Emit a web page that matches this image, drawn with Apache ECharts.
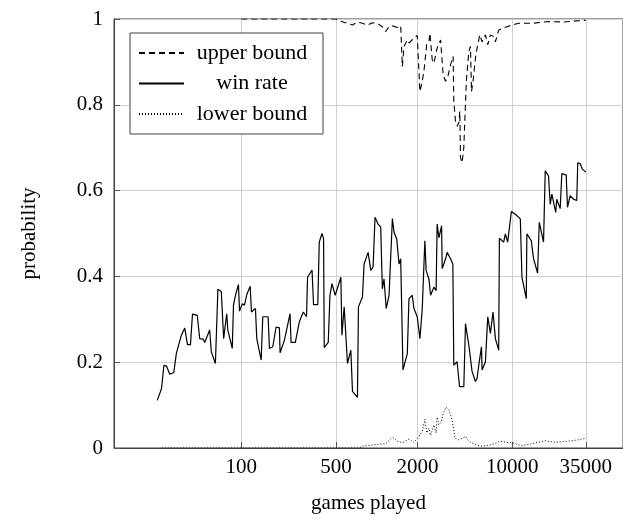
<!DOCTYPE html>
<html lang="en">
<head>
<meta charset="UTF-8">
<title>win rate</title>
<script src="https://cdn.jsdelivr.net/npm/echarts@6/dist/echarts.min.js"></script>
<style>
    html, body { margin: 0; padding: 0; background: #fff; }
    #main { width: 623px; height: 519px; }
</style>
</head>
<body>
<div id="main"></div>
<script>
// x tick labels (games played, log axis)
var xTicks = [100, 500, 2000, 10000, 35000];

// win rate
var winGames = [24.0, 25.8, 26.9, 28.1, 29.7, 31.8, 33.2, 34.1, 35.2, 36.2,
    38.3, 39.4, 40.1, 42.2, 43.7, 47.4, 49.4, 52.3, 53.8, 58.5,
    60.2, 64.5, 67.3, 71.3, 74.2, 78.2, 79.7, 85.9, 87.7, 90.7,
    95.4, 97.2, 101.8, 105.8, 109.8, 116.5, 119, 127.4, 130.3, 140.4,
    144.3, 158, 161.6, 171, 181, 191.4, 193.7, 208.3, 229.4, 233.3,
    251, 268.6, 287.4, 303.5, 308.9, 333.2, 342.1, 367.5, 376.9, 394.6,
    405.5, 410.2, 439.1, 451.8, 467.5, 494.3, 544.2, 553.8, 575.6, 592.4,
    608.8, 644.7, 662.8, 721.1, 733.6, 785.2, 807.5, 864.7, 904.7, 940.7,
    972.4, 1024, 1071, 1101, 1133, 1176, 1234, 1306, 1343, 1406,
    1462, 1504, 1564, 1683, 1731, 1831, 1884, 1992, 2086, 2170,
    2268, 2318, 2430, 2500, 2644, 2746, 2795, 2879, 3014, 3046,
    3225, 3314, 3509, 3649, 3710, 3925, 4088, 4397, 4525, 4786,
    5064, 5360, 5509, 5670, 5936, 5999, 6350, 6606, 6911, 7220,
    7522, 7956, 8051, 8656, 8911, 9269, 9868, 10556, 11489, 11812,
    12717, 12840, 13848, 14394, 15408, 15856, 17047, 17548, 18560, 19098,
    19636, 20973, 21344, 22625, 23262, 25065, 25615, 26801, 28338, 29985,
    30490, 31750, 33015, 35000];
var winRate = [0.111, 0.138, 0.193, 0.191, 0.172, 0.176, 0.220, 0.234, 0.232, 0.263,
    0.280, 0.282, 0.241, 0.241, 0.312, 0.309, 0.255, 0.254, 0.246, 0.275,
    0.224, 0.197, 0.370, 0.365, 0.255, 0.313, 0.275, 0.232, 0.333, 0.356,
    0.381, 0.319, 0.336, 0.333, 0.357, 0.377, 0.317, 0.325, 0.255, 0.205,
    0.306, 0.306, 0.232, 0.236, 0.282, 0.280, 0.222, 0.251, 0.313, 0.246,
    0.246, 0.294, 0.317, 0.306, 0.398, 0.415, 0.334, 0.334, 0.480, 0.500,
    0.488, 0.234, 0.246, 0.356, 0.383, 0.356, 0.398, 0.263, 0.329, 0.325,
    0.197, 0.228, 0.132, 0.118, 0.329, 0.352, 0.429, 0.456, 0.414, 0.422,
    0.538, 0.522, 0.515, 0.371, 0.394, 0.325, 0.356, 0.535, 0.503, 0.487,
    0.429, 0.441, 0.182, 0.220, 0.348, 0.356, 0.325, 0.306, 0.255, 0.325,
    0.483, 0.414, 0.394, 0.356, 0.375, 0.367, 0.522, 0.490, 0.518, 0.418,
    0.441, 0.456, 0.441, 0.429, 0.193, 0.201, 0.143, 0.143, 0.290, 0.240,
    0.178, 0.155, 0.162, 0.193, 0.236, 0.182, 0.201, 0.306, 0.267, 0.317,
    0.255, 0.228, 0.489, 0.480, 0.499, 0.480, 0.551, 0.545, 0.534, 0.398,
    0.348, 0.499, 0.483, 0.441, 0.408, 0.526, 0.480, 0.646, 0.634, 0.568,
    0.592, 0.549, 0.580, 0.558, 0.640, 0.636, 0.561, 0.588, 0.580, 0.577,
    0.665, 0.663, 0.650, 0.643];

// upper bound
var upperGames = [100, 500, 528.9, 608.8, 662.8, 721.1, 785.2, 854.3, 930.2, 1012,
    1101, 1166, 1234, 1306, 1420, 1504, 1547, 1591, 1683, 1731,
    1884, 1992, 2086, 2170, 2232, 2339, 2430, 2471, 2571, 2644,
    2795, 2963, 3095, 3225, 3354, 3509, 3666, 3710, 3819, 3925,
    4040, 4109, 4157, 4274, 4397, 4472, 4589, 4786, 4925, 5011,
    5145, 5360, 5509, 5767, 5999, 6350, 6606, 6911, 7309, 7522,
    7956, 8418, 9157, 10000, 11165, 13993, 18560, 23922, 30855, 35000];
var upperVals = [1, 1, 0.996, 0.990, 0.986, 0.993, 0.990, 0.986, 0.991, 0.990,
    0.982, 0.971, 0.982, 0.984, 0.980, 0.984, 0.889, 0.936, 0.951, 0.944,
    0.955, 0.962, 0.831, 0.855, 0.878, 0.940, 0.947, 0.967, 0.905, 0.897,
    0.932, 0.951, 0.870, 0.855, 0.866, 0.893, 0.913, 0.808, 0.762, 0.750,
    0.758, 0.785, 0.677, 0.665, 0.700, 0.762, 0.855, 0.924, 0.936, 0.831,
    0.855, 0.909, 0.932, 0.963, 0.947, 0.963, 0.940, 0.963, 0.959, 0.947,
    0.974, 0.978, 0.982, 0.986, 0.990, 0.990, 0.994, 0.993, 0.996, 0.997];

// lower bound
var lowerGames = [26, 740, 785.2, 984.7, 1166, 1306, 1420, 1547, 1731, 1884,
    2051, 2170, 2268, 2339, 2430, 2500, 2644, 2746, 2795, 2879,
    3014, 3095, 3256, 3410, 3570, 3710, 3775, 4040, 4525, 4786,
    5360, 5999, 7106, 8187, 9157, 10085, 11812, 13993, 17548, 20787,
    26046, 30855, 35000];
var lowerVals = [0, 0, 0.004, 0.008, 0.010, 0.025, 0.016, 0.012, 0.021, 0.013,
    0.027, 0.039, 0.067, 0.035, 0.046, 0.029, 0.054, 0.035, 0.072, 0.054,
    0.062, 0.081, 0.095, 0.089, 0.070, 0.042, 0.023, 0.019, 0.027, 0.016,
    0.008, 0.004, 0.008, 0.016, 0.013, 0.012, 0.005, 0.010, 0.017, 0.013,
    0.016, 0.019, 0.023];

function pairs(xs, ys) {
    return xs.map(function (x, i) { return [x, ys[i]]; });
}

var serif = "'Liberation Serif', 'DejaVu Serif', serif";
var chart = echarts.init(document.getElementById('main'));
chart.setOption({
    animation: false,
    grid: {
        left: 114, right: -2, top: 19, bottom: 69,
        show: true, borderColor: '#404040', borderWidth: 1
    },
    legend: {
        orient: 'vertical', left: 130, top: 33,
        padding: [9, 8, 9, 8],
        itemGap: 8.5, itemWidth: 45, itemHeight: 2,
        backgroundColor: '#fff', borderColor: '#404040', borderWidth: 1,
        itemStyle: { opacity: 0 },
        data: ['upper bound', 'win rate', 'lower bound'],
        formatter: function (n) { return '{c|' + n + '}'; },
        textStyle: {
            fontFamily: serif, fontSize: 22, color: '#000',
            rich: { c: { width: 126, align: 'center', fontFamily: serif, fontSize: 22, lineHeight: 24 } }
        }
    },
    xAxis: {
        type: 'log', logBase: 10, min: 11.51, max: 65800,
        name: 'games played', nameLocation: 'middle', nameGap: 45,
        nameTextStyle: { fontFamily: serif, fontSize: 21, color: '#000' },
        axisLine: { lineStyle: { color: '#404040' } },
        axisTick: { inside: true, length: 6, customValues: xTicks, lineStyle: { color: '#555' } },
        axisLabel: {
            customValues: xTicks, fontFamily: serif, fontSize: 21, color: '#000', margin: 9,
            formatter: function (v) { return String(Math.round(v)); }
        },
        splitLine: { show: true, lineStyle: { color: '#d0d0d0' } }
    },
    yAxis: {
        type: 'value', min: 0, max: 1, interval: 0.2,
        name: 'probability', nameLocation: 'middle', nameGap: 74,
        nameTextStyle: { fontFamily: serif, fontSize: 21, color: '#000' },
        axisLine: { show: true, lineStyle: { color: '#404040' } },
        axisTick: { show: true, inside: true, length: 6, lineStyle: { color: '#555' } },
        axisLabel: { fontFamily: serif, fontSize: 21, color: '#000', margin: 11 },
        splitLine: { show: true, lineStyle: { color: '#d0d0d0' } }
    },
    series: [{
        name: 'upper bound', type: 'line', symbol: 'none',
        data: pairs(upperGames, upperVals),
        itemStyle: { color: '#000' },
        lineStyle: { color: '#000', width: 1.1, type: [6, 4] }
    }, {
        name: 'win rate', type: 'line', symbol: 'none',
        data: pairs(winGames, winRate),
        itemStyle: { color: '#000' },
        lineStyle: { color: '#000', width: 1.2 }
    }, {
        name: 'lower bound', type: 'line', symbol: 'none',
        data: pairs(lowerGames, lowerVals),
        itemStyle: { color: '#000' },
        lineStyle: { color: '#000', width: 1, type: [1, 2] }
    }]
});
</script>
</body>
</html>
